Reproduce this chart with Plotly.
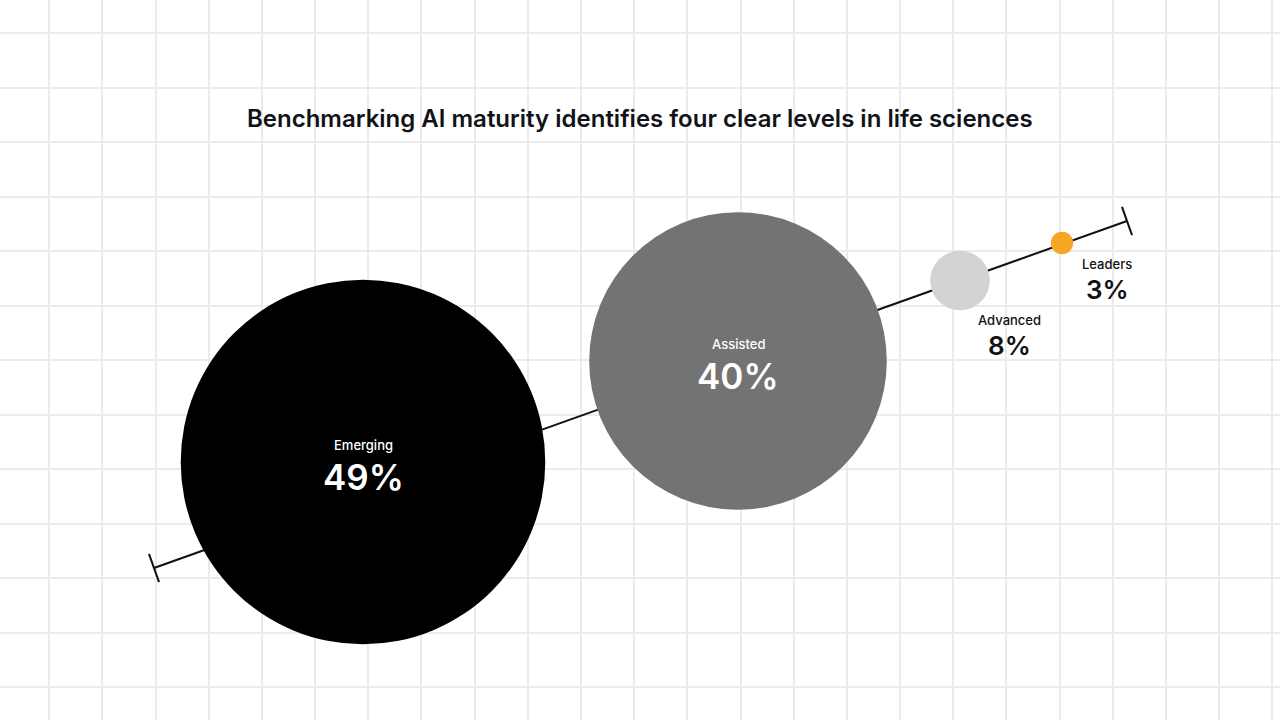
import plotly.graph_objects as go
import numpy as np

# ---- data ----
levels = ["Emerging", "Assisted", "Advanced", "Leaders"]
shares = [49, 40, 8, 3]
share_labels = ["49%", "40%", "8%", "3%"]
title_text = "Benchmarking AI maturity identifies four clear levels in life sciences"

# ---- layout / style (pixel coordinate canvas) ----
W, H = 1280, 720
centers_x = [363, 738, 960, 1062]
centers_y = [462, 361, 280.5, 243]
colors = ["#000000", "#737373", "#d3d3d3", "#f6a623"]
px_per_pct = 7.44  # diameter in px per percentage point
inside = [True, True, False, False]
label_offsets = [(0, 0), (0, 0), (49, 39.5), (45, 20.5)]  # for outside labels
axis_start = (154, 568)
axis_end = (1127, 221)
cap_half = 15

fig = go.Figure()

# maturity axis line
fig.add_trace(go.Scatter(x=[axis_start[0], axis_end[0]], y=[axis_start[1], axis_end[1]],
                         mode="lines", line=dict(color="#111111", width=2),
                         hoverinfo="skip", showlegend=False))
# end caps (perpendicular)
d = np.array([axis_end[0] - axis_start[0], axis_end[1] - axis_start[1]], float)
d /= np.linalg.norm(d)
p = np.array([-d[1], d[0]])
for pt in (axis_start, axis_end):
    fig.add_trace(go.Scatter(x=[pt[0] - p[0] * cap_half, pt[0] + p[0] * cap_half],
                             y=[pt[1] - p[1] * cap_half, pt[1] + p[1] * cap_half],
                             mode="lines", line=dict(color="#111111", width=2),
                             hoverinfo="skip", showlegend=False))

# bubbles
fig.add_trace(go.Scatter(x=centers_x, y=centers_y, mode="markers",
                         marker=dict(size=[s * px_per_pct for s in shares], color=colors,
                                     line=dict(width=0), opacity=1),
                         text=levels, hoverinfo="text", showlegend=False))

# labels
for i, (name, lab) in enumerate(zip(levels, share_labels)):
    if inside[i]:
        cx, cy = centers_x[i], centers_y[i]
        fig.add_annotation(x=cx, y=cy - 17, text=name, showarrow=False,
                           font=dict(family="Inter", size=13, color="white", weight=500))
        fig.add_annotation(x=cx, y=cy + 15, text=lab, showarrow=False,
                           font=dict(family="Inter", size=35, color="white", weight=600))
    else:
        cx = centers_x[i] + label_offsets[i][0]
        cy = centers_y[i] + label_offsets[i][1]
        fig.add_annotation(x=cx, y=cy, text=name, showarrow=False,
                           font=dict(family="Inter", size=13, color="#111111", weight=500))
        fig.add_annotation(x=cx, y=cy + 25.5, text=lab, showarrow=False,
                           font=dict(family="Inter", size=26, color="#111111", weight=600))

fig.add_annotation(x=640, y=118, text=title_text, showarrow=False,
                   font=dict(family="Inter", size=24, color="#111318", weight=600))

fig.update_layout(
    width=W, height=H, margin=dict(l=0, r=0, t=0, b=0),
    paper_bgcolor="white", plot_bgcolor="white",
    xaxis=dict(range=[0, W], showgrid=True, gridcolor="#ebebeb", gridwidth=1.5,
               tick0=49.3, dtick=53.17, showticklabels=False, zeroline=False,
               showline=False, ticks="", fixedrange=True),
    yaxis=dict(range=[H, 0], showgrid=True, gridcolor="#ebebeb", gridwidth=1.5,
               tick0=33.3, dtick=54.5, showticklabels=False, zeroline=False,
               showline=False, ticks="", fixedrange=True),
)

fig.write_html("out.html", config=dict(displayModeBar=False))
